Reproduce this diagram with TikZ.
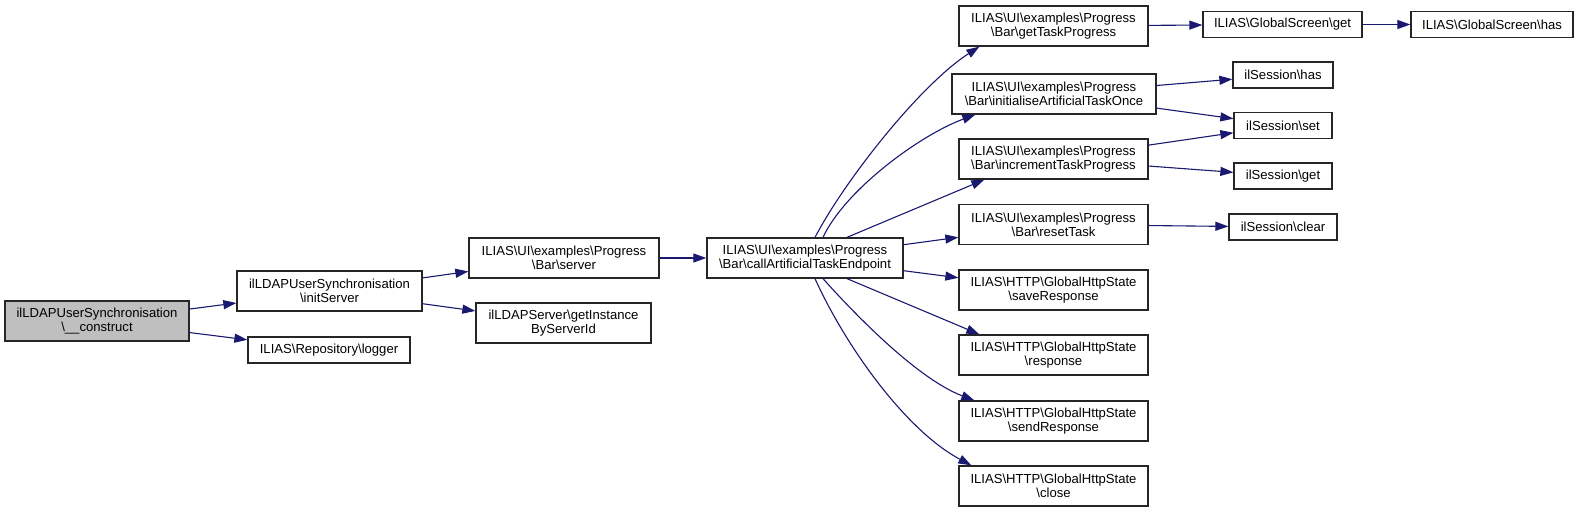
\documentclass[tikz,border=0pt]{standalone}
\usepackage{fontspec}
\setmainfont{Liberation Sans}
\usetikzlibrary{arrows.meta}
\definecolor{edgeblue}{HTML}{191970}
\newcommand{\nsep}{\textbackslash}
\begin{document}
\begin{tikzpicture}[x=1pt,y=-1pt]
  \tikzset{fn/.style={draw=black!85, line width=1.3pt, fill=white, align=center, inner sep=0pt,
      minimum height=40pt, font=\fontsize{13.1}{14}\selectfont},
    fnone/.style={fn, minimum height=26pt},
    calls/.style={draw=edgeblue, line width=1.1pt, -{Triangle[length=13pt,width=9pt]}}}
  \path[use as bounding box] (0,0) rectangle (1579,512);

  \node[fn, fill=black!25, minimum width=184pt] (construct) at (97,321) {ilLDAPUserSynchronisation\\\nsep\_\_construct};
  \node[fn, minimum width=185pt] (initsrv) at (329.5,291) {ilLDAPUserSynchronisation\\\nsep initServer};
  \node[fnone, minimum width=162pt] (logger) at (329,350) {ILIAS\nsep Repository\nsep logger};
  \node[fn, minimum width=190pt] (server) at (564,258) {ILIAS\nsep UI\nsep examples\nsep Progress\\\nsep Bar\nsep server};
  \node[fn, minimum width=175pt] (getinst) at (563.5,323) {ilLDAPServer\nsep getInstance\\ByServerId};
  \node[fn, minimum width=196pt] (callep) at (805,258) {ILIAS\nsep UI\nsep examples\nsep Progress\\\nsep Bar\nsep callArtificialTaskEndpoint};

  \node[fn, minimum width=189pt] (gettask) at (1053.5,26) {ILIAS\nsep UI\nsep examples\nsep Progress\\\nsep Bar\nsep getTaskProgress};
  \node[fn, minimum width=204pt] (initonce) at (1054,94) {ILIAS\nsep UI\nsep examples\nsep Progress\\\nsep Bar\nsep initialiseArtificialTaskOnce};
  \node[fn, minimum width=189pt] (incr) at (1053.5,159) {ILIAS\nsep UI\nsep examples\nsep Progress\\\nsep Bar\nsep incrementTaskProgress};
  \node[fn, minimum width=189pt] (reset) at (1053.5,224.5) {ILIAS\nsep UI\nsep examples\nsep Progress\\\nsep Bar\nsep resetTask};
  \node[fn, minimum width=189pt] (saveresp) at (1053.5,290) {ILIAS\nsep HTTP\nsep GlobalHttpState\\\nsep saveResponse};
  \node[fn, minimum width=189pt] (resp) at (1053.5,355) {ILIAS\nsep HTTP\nsep GlobalHttpState\\\nsep response};
  \node[fn, minimum width=189pt] (sendresp) at (1053.5,421) {ILIAS\nsep HTTP\nsep GlobalHttpState\\\nsep sendResponse};
  \node[fn, minimum width=189pt] (close) at (1053.5,486) {ILIAS\nsep HTTP\nsep GlobalHttpState\\\nsep close};

  \node[fnone, minimum width=159pt] (gsget) at (1282.5,24.5) {ILIAS\nsep GlobalScreen\nsep get};
  \node[fnone, minimum width=162pt] (gshas) at (1492,24.5) {ILIAS\nsep GlobalScreen\nsep has};
  \node[fnone, minimum width=100pt] (sesshas) at (1283,75) {ilSession\nsep has};
  \node[fnone, minimum width=98pt] (sessset) at (1283,125.5) {ilSession\nsep set};
  \node[fnone, minimum width=98pt] (sessget) at (1283,176) {ilSession\nsep get};
  \node[fnone, minimum width=108pt] (sessclear) at (1283,227) {ilSession\nsep clear};

  \draw[calls] (construct) -- (initsrv);
  \draw[calls] (construct) -- (logger);
  \draw[calls] (initsrv) -- (server);
  \draw[calls] (initsrv) -- (getinst);
  \draw[calls] (server) -- (callep);

  \draw[calls] ([xshift=10pt]callep.north) .. controls (845,180) and (920,85) .. ([xshift=21pt]gettask.south west);
  \draw[calls] ([xshift=18pt]callep.north) .. controls (845,190) and (920,135) .. ([xshift=24pt]initonce.south west);
  \draw[calls] ([xshift=42pt]callep.north) -- ([xshift=26pt]incr.south west);
  \draw[calls] (callep) -- (reset);
  \draw[calls] (callep) -- (saveresp);
  \draw[calls] ([xshift=42pt]callep.south) -- ([xshift=21pt]resp.north west);
  \draw[calls] ([xshift=18pt]callep.south) .. controls (860,320) and (920,380) .. ([xshift=16pt]sendresp.north west);
  \draw[calls] ([xshift=10pt]callep.south) .. controls (845,345) and (905,430) .. ([xshift=13pt]close.north west);

  \draw[calls] (gettask) -- (gsget);
  \draw[calls] (gsget) -- (gshas);
  \draw[calls] (initonce) -- (sesshas);
  \draw[calls] (initonce) -- (sessset);
  \draw[calls] (incr) -- (sessset);
  \draw[calls] (incr) -- (sessget);
  \draw[calls] (reset) -- (sessclear);
\end{tikzpicture}
\end{document}
